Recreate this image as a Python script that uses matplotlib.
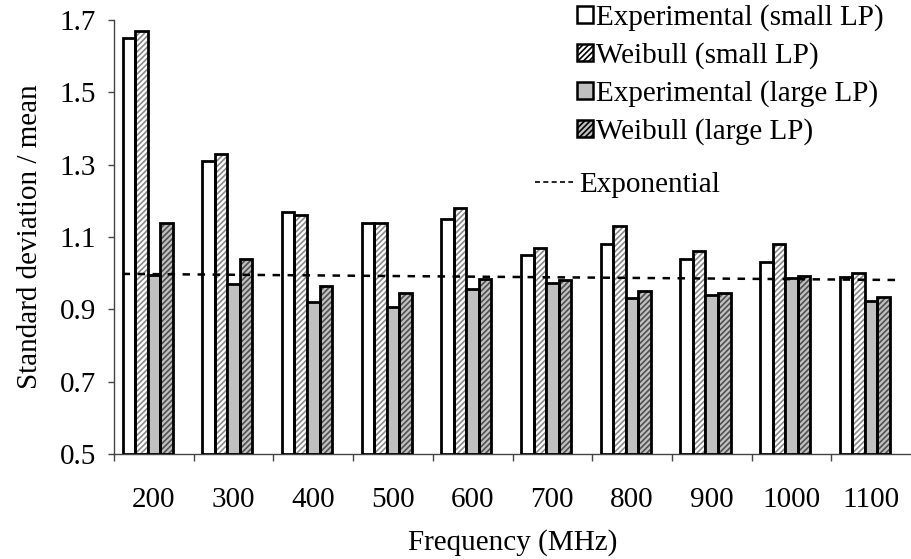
import numpy as np
import matplotlib.pyplot as plt
from matplotlib.patches import Patch
from matplotlib.lines import Line2D

plt.rcParams['font.family'] = ['Liberation Serif', 'DejaVu Serif']
plt.rcParams['hatch.linewidth'] = 1.2

freqs = ['200', '300', '400', '500', '600', '700', '800', '900', '1000', '1100']
exp_small = [1.65, 1.31, 1.17, 1.14, 1.15, 1.05, 1.08, 1.04, 1.03, 0.99]
weib_small = [1.67, 1.33, 1.16, 1.14, 1.18, 1.07, 1.13, 1.06, 1.08, 1.00]
exp_large = [0.995, 0.97, 0.92, 0.906, 0.955, 0.974, 0.93, 0.94, 0.988, 0.924]
weib_large = [1.14, 1.04, 0.965, 0.946, 0.983, 0.981, 0.952, 0.944, 0.993, 0.935]
exponential_ends = [0.998, 0.981]

labels = ['Experimental (small LP)', 'Weibull (small LP)',
          'Experimental (large LP)', 'Weibull (large LP)']
faces = ['white', 'white', '#c0c0c0', '#c0c0c0']
hatches = [None, '//////', None, '//////']
hatch_cols = ['black', '#8a8a8a', 'black', '#505050']

FS = 21

fig = plt.figure(figsize=(9.11, 5.59), dpi=100)
ax = fig.add_axes([114 / 911, 105 / 559, 797 / 911, 434 / 559])

x = np.arange(len(freqs))
w = 0.157  # room for 5 slots, the 5th left empty
series = [exp_small, weib_small, exp_large, weib_large]
for i, vals in enumerate(series):
    pos = x + (i - 2) * w
    if hatches[i]:
        ax.bar(pos, np.array(vals) - 0.5, w, bottom=0.5, color=faces[i],
               hatch=hatches[i], edgecolor=hatch_cols[i], linewidth=0, zorder=2)
        ax.bar(pos, np.array(vals) - 0.5, w, bottom=0.5, facecolor='none',
               edgecolor='black', linewidth=2.0, zorder=3)
    else:
        ax.bar(pos, np.array(vals) - 0.5, w, bottom=0.5, color=faces[i],
               edgecolor='black', linewidth=2.0, zorder=3)

# exponential reference line spanning the clusters
lx = [x[0] - 2.5 * w, x[-1] + 2.5 * w]
ax.plot(lx, exponential_ends, color='black', lw=1.8, ls=(0, (3, 3)), zorder=4)

ax.set_xlim(-0.5, len(freqs) - 0.5)
ax.set_ylim(0.5, 1.7)
ax.set_yticks([0.5, 0.7, 0.9, 1.1, 1.3, 1.5, 1.7])
ax.set_yticklabels(['0.5', '0.7', '0.9', '1.1', '1.3', '1.5', '1.7'])
ax.set_xticks(x)
ax.set_xticklabels(freqs)
ax.set_xticks(np.arange(len(freqs)) - 0.5, minor=True)

for s in ['top', 'right']:
    ax.spines[s].set_visible(False)
for s in ['left', 'bottom']:
    ax.spines[s].set_color('#444444')
    ax.spines[s].set_linewidth(1.0)

ax.tick_params(axis='y', direction='out', length=4, width=1, color='#444444',
               labelsize=FS, pad=9)
ax.tick_params(axis='x', which='major', length=0, labelsize=FS, pad=24)
ax.tick_params(axis='x', which='minor', direction='out', length=5, width=1,
               color='#444444')

ax.set_ylabel('Standard deviation / mean', fontsize=FS, labelpad=12)
ax.set_xlabel('Frequency (MHz)', fontsize=FS, labelpad=11)

handles = []
for i in range(4):
    if hatches[i]:
        handles.append(Patch(facecolor=faces[i], edgecolor='black', hatch=hatches[i],
                             linewidth=1.8))
    else:
        handles.append(Patch(facecolor=faces[i], edgecolor='black', linewidth=1.8))
leg1 = ax.legend(handles, labels, loc='upper left', bbox_to_anchor=(577 / 911, 1 - 4 / 559),
                 bbox_transform=fig.transFigure, frameon=False, fontsize=FS,
                 handlelength=0.55, handleheight=0.55, handletextpad=0.1,
                 labelspacing=0.38, borderpad=0.0, borderaxespad=0.0)
ax.add_artist(leg1)
line_h = Line2D([0], [0], color='black', lw=1.2, ls=(0, (3, 2)))
ax.legend([line_h], ['Exponential'], loc='upper left',
          bbox_to_anchor=(535 / 911, 1 - 172 / 559), bbox_transform=fig.transFigure,
          frameon=False, fontsize=FS, handlelength=1.3, handletextpad=0.2,
          borderpad=0.0, borderaxespad=0.0)

fig.savefig('out.png', dpi=100)
